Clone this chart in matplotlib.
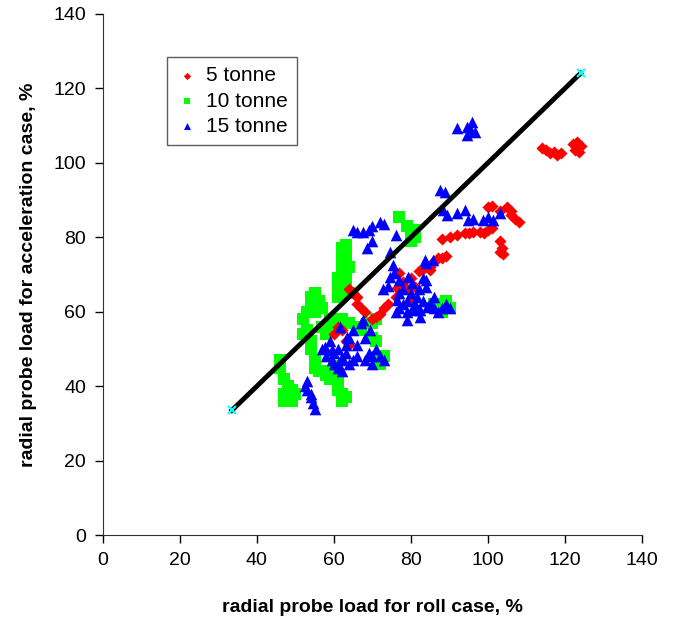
import matplotlib
matplotlib.use("Agg")
import matplotlib.pyplot as plt
import numpy as np

plt.rcParams['font.family'] = ['Liberation Sans', 'DejaVu Sans']

# 5 tonne
x5 = [114, 115, 116, 117, 118, 119, 122, 123, 123.5, 124, 123, 122.5,
      100, 101, 103, 105, 106, 107, 108, 106,
      103, 103.5, 103, 104,
      88, 90, 92, 94, 96, 98, 100, 101, 99, 95,
      85, 86, 87, 88, 89,
      82, 83, 80, 78, 77, 76, 74, 73, 72, 71, 70,
      79, 81, 80,
      64, 65, 66, 66, 67, 68,
      61, 62, 63, 64, 60,
      76.4, 77, 85]
y5 = [104, 103.5, 102.5, 103, 102, 102.5, 105, 104, 103, 104.5, 105.5, 103.5,
      88, 88.5, 87, 88, 87, 85, 84, 86,
      79, 77, 76, 75.5,
      79.5, 80, 80.5, 81, 81.5, 81.5, 82, 82.5, 81, 81,
      72, 73.5, 74.5, 74.5, 75,
      71, 71.5, 69, 68, 66, 64, 62, 61, 59.5, 58.5, 58,
      66, 66.5, 63,
      66, 65, 64, 62, 61, 60,
      56, 55, 52, 51, 54,
      66.4, 70.4, 71.2]

# 10 tonne
x10 = [46, 46, 47, 47, 48, 49, 49, 50, 48, 47,
       52, 53, 54, 54, 55, 53, 54, 54, 55, 55, 56, 57, 58, 59, 57, 58, 59, 57, 56, 55, 52,
       60, 61, 62, 63, 62, 61, 60,
       61, 61, 62, 62, 62, 63, 62, 63, 61, 63, 64, 63, 64, 61,
       59, 60, 62, 64, 66, 70, 71, 67,
       72, 72, 73, 70, 71,
       77, 79, 80, 81, 80, 81,
       86, 87, 88, 89, 90, 88]
y10 = [45, 47, 42, 38, 37, 36, 39, 38, 40, 36,
       58, 60, 62, 64, 65, 55, 52, 50, 47, 45, 44, 44, 43, 42, 56, 54, 58, 61, 63, 60, 54,
       44, 41, 38, 37, 36, 39, 45.5,
       66, 69, 70, 72, 74, 75, 77, 78, 67, 66, 65, 69, 72, 64,
       55, 57, 58, 57, 56, 57, 58, 55,
       47, 46, 48, 53, 52,
       85.5, 83, 81, 80, 79, 82,
       62, 61, 62, 63, 61, 60]

# 15 tonne
x15 = [52.5, 53, 53, 54, 54.5, 55, 54,
       57, 58, 59, 60, 61, 62, 63, 64, 65, 66, 67, 68, 69, 70, 71, 72, 73, 62, 61, 64, 66, 60, 63, 65,
       59.5, 57.7, 62, 59.5, 61, 67.6, 69.4, 61.6, 63.4, 68, 70,
       65, 66, 67.5, 69, 70, 72, 73, 76, 70, 68.5,
       74.5, 75.4, 74.5, 74, 77, 79, 80.5, 82.3, 81.6, 80.2, 79.2, 84, 84, 85, 83.6, 85.7, 84,
       72.7, 76.4, 80.5, 84.2, 82.3, 79, 77, 78, 81, 83, 76, 86, 87,
       75.5, 78, 80, 82, 83, 86, 88, 89, 90, 77, 79,
       87.5, 88.8, 91.9, 94, 94.8, 98.7, 101.3, 103, 88.3, 89.3, 96, 100,
       92, 94.5, 95.8, 96.6, 94.5, 95.5]
y15 = [40, 41.5, 39, 37, 35.5, 34, 38,
       50, 48, 52, 46, 50, 47, 49, 53, 55, 51, 57, 53, 49, 48, 50, 48, 47, 44, 45, 46, 48, 49, 51, 47,
       49.7, 50.5, 47.8, 47, 46, 57.8, 55.1, 56, 53.2, 47, 46,
       82, 81.5, 81.5, 82, 83, 84, 83.5, 80.5, 79, 77,
       76, 72.6, 69.4, 67, 65, 63, 61.3, 60.5, 64, 67.7, 69.4, 73, 68.5, 62.4, 74, 74, 66.7,
       66, 63.2, 60.5, 61.3, 58.6, 57.8, 68.5, 62, 62, 63, 60, 61, 60,
       70.5, 66, 65, 66, 69, 64, 61, 62, 61, 61, 60,
       92.7, 92, 86.6, 87.4, 84.7, 84.7, 84.7, 86.6, 87.4, 86, 85, 85.5,
       109.4, 109.7, 110.8, 108.3, 107.5, 108.5]

# 1:1 line
line_x = [33.5, 124]
line_y = [33.5, 124]

fig = plt.figure(figsize=(6.76, 6.23), dpi=100)
ax = fig.add_axes([0.152, 0.141, 0.798, 0.837])

ax.scatter(x5, y5, marker='D', s=38, color='#ff0000', linewidths=0, label='5 tonne', zorder=3)
ax.scatter(x10, y10, marker='s', s=70, color='#00ff00', linewidths=0, label='10 tonne', zorder=2)
ax.scatter(x15, y15, marker='^', s=70, color='#0000ff', linewidths=0, label='15 tonne', zorder=4)
ax.plot(line_x, line_y, color='black', lw=3.5, zorder=5)
ax.plot(line_x, line_y, ls='none', marker='x', color='#00ffff', ms=6, mew=1.5, zorder=6)

ax.set_xlim(0, 140)
ax.set_ylim(0, 140)
ax.set_xticks(np.arange(0, 141, 20))
ax.set_yticks(np.arange(0, 141, 20))
ax.spines['top'].set_visible(False)
ax.spines['right'].set_visible(False)
ax.spines['left'].set_color('#333333')
ax.spines['bottom'].set_color('#333333')
ax.tick_params(direction='out', length=6, width=1, labelsize=14, colors='black', pad=6)

ax.set_xlabel('radial probe load for roll case, %', fontsize=14, fontweight='bold', labelpad=22)
ax.set_ylabel('radial probe load for acceleration case, %', fontsize=14, fontweight='bold', labelpad=12)

leg = ax.legend(loc='upper left', bbox_to_anchor=(0.12, 0.917), fontsize=15, frameon=True,
                fancybox=False, edgecolor='#333333', handletextpad=0.4, borderpad=0.45,
                labelspacing=0.3, handlelength=1.0, markerscale=0.6, borderaxespad=0)
leg.get_frame().set_linewidth(1)

fig.savefig('out.png', dpi=100)
